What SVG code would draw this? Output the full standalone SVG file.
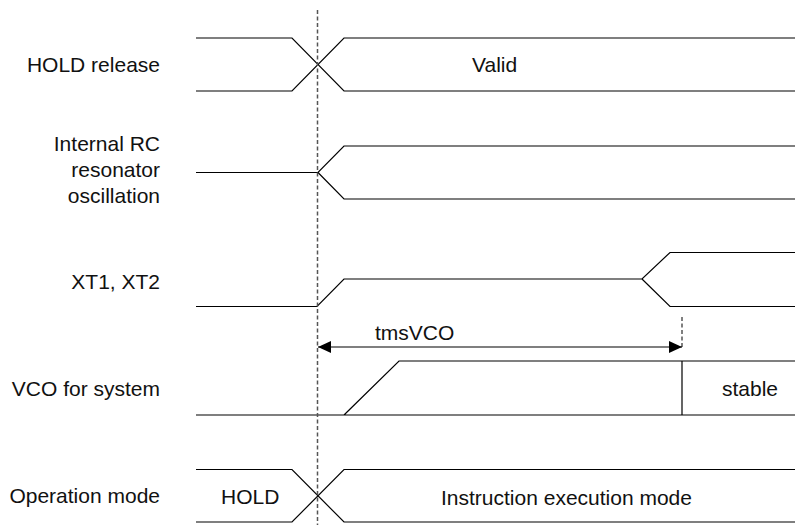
<svg xmlns="http://www.w3.org/2000/svg" width="795" height="525" viewBox="0 0 795 525">
<defs>
<style>
.sig{fill:none;stroke:#000;stroke-width:1.2}
.lbl{font-family:"Liberation Sans",Arial,sans-serif;font-size:21px;fill:#111}
.r{text-anchor:end}
.dash{fill:none;stroke:#555;stroke-width:1.5;stroke-dasharray:4,2.5}
</style>
<marker id="ah" viewBox="0 0 13 12" refX="13" refY="6" markerWidth="13" markerHeight="12" markerUnits="userSpaceOnUse" orient="auto-start-reverse">
<path d="M0,0 L13,6 L0,12 Z" fill="#000"/>
</marker>
</defs>
<rect width="795" height="525" fill="#fff"/>

<g id="labels">
<text class="lbl r" x="160" y="72">HOLD release</text>
<text class="lbl r" x="160" y="151">Internal RC</text>
<text class="lbl r" x="160" y="177">resonator</text>
<text class="lbl r" x="160" y="203">oscillation</text>
<text class="lbl r" x="160" y="289">XT1, XT2</text>
<text class="lbl r" x="160" y="396">VCO for system</text>
<text class="lbl r" x="160" y="503">Operation mode</text>
</g>

<g id="hold-release">
<path class="sig" d="M196,38 H292 L344,91 H795 M196,91 H292 L344,38 H795"/>
<text class="lbl" x="472" y="72">Valid</text>
</g>

<g id="rc-oscillation">
<path class="sig" d="M196,172.5 H318 L344,146 H795 M318,172.5 L344,199 H795"/>
</g>

<g id="xt1-xt2">
<path class="sig" d="M196,306.5 H317 L344,279 H642 L670,252.5 H795 M642,279 L670,306.5 H795"/>
</g>

<g id="vco">
<path class="sig" d="M196,415 H795 M344,415 L399,361 H795 M682,361 V415"/>
<text class="lbl" x="722" y="396">stable</text>
</g>

<g id="operation-mode">
<path class="sig" d="M196,469.5 H292 L344,522 H795 M196,522 H292 L344,469.5 H795"/>
<text class="lbl" x="221" y="504">HOLD</text>
<text class="lbl" x="441" y="505">Instruction execution mode</text>
</g>

<g id="connectors">
<line class="dash" x1="317.5" y1="10" x2="317.5" y2="525"/>
<line class="dash" x1="682" y1="317" x2="682" y2="347"/>
<line x1="318" y1="347" x2="682" y2="347" stroke="#000" stroke-width="1.2" marker-start="url(#ah)" marker-end="url(#ah)"/>
<text class="lbl" x="375" y="340">tmsVCO</text>
</g>
</svg>
